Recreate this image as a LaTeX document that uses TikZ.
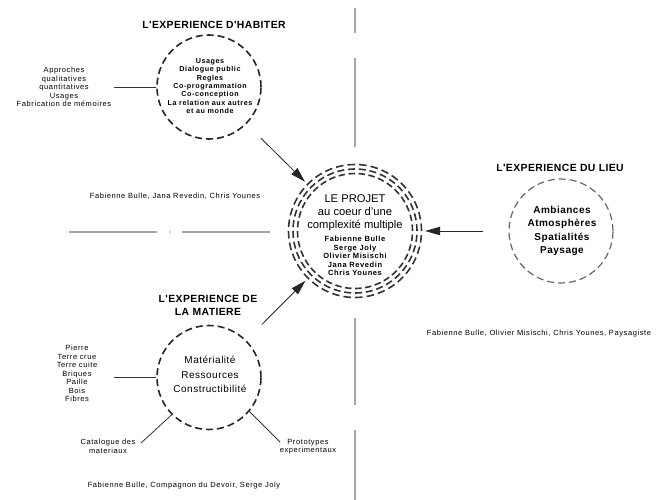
\documentclass[tikz,border=0pt]{standalone}
\usepackage{fontspec}
\setmainfont{Liberation Sans}
\newfontfamily\smfont[LetterSpace=8]{Liberation Sans}
\newfontfamily\ttlfont[LetterSpace=4]{Liberation Sans}
\newfontfamily\midfont[LetterSpace=5]{Liberation Sans}
\usetikzlibrary{arrows.meta}
\tikzset{
  sep/.style={draw=black!35, line width=1.6pt},
  ringc/.style={circle, draw=black!85, line width=1.6pt, dash pattern=on 7pt off 4pt, minimum size=104pt, inner sep=0pt},
  ringl/.style={ringc, draw=black!60, line width=1.2pt},
  small/.style={font=\smfont\fontsize{7.5}{8.5}\selectfont, align=center, inner sep=0pt},
  smallb/.style={font=\smfont\bfseries\fontsize{7.2}{8.4}\selectfont, align=center, inner sep=0pt},
  ttl/.style={font=\ttlfont\bfseries\fontsize{10.4}{13}\selectfont, align=center, inner sep=0pt},
  arr/.style={-{Triangle[length=15pt,width=8.5pt]}, line width=0.8pt, draw=black!85},
  link/.style={line width=0.8pt, draw=black!80},
  dashring/.style={line width=1.6pt, draw=black!80}
}
\begin{document}
\begin{tikzpicture}[x=1pt,y=-1pt]
\useasboundingbox[fill=white] (0,0) rectangle (664,500);

% grey separators
\draw[sep] (69,232) -- (157,232);
\fill[black!35] (170,232) circle (0.9pt);
\draw[sep] (182,232) -- (270,232);
\draw[sep] (355,8) -- (355,33);
\draw[sep] (355,58) -- (355,147);
\draw[sep] (355,318) -- (355,405);
\draw[sep] (355,430) -- (355,500);

% central project
\node[circle, minimum size=140pt, inner sep=0pt] (projet) at (355,231) {};
\foreach \r in {57.5,62,66.5}{
  \foreach \a in {0,10,...,350}{
    \draw[dashring] ([shift={(\a:\r pt)}]projet.center) arc[start angle=\a, end angle=\a+6.5, radius=\r pt];
  }
}
\node[font=\fontsize{11.2}{13}\selectfont, align=center, inner sep=0pt] (projtxt) at (355,213) {LE PROJET\\au coeur d'une\\complexité multiple};
\node[font=\smfont\bfseries\fontsize{7.5}{8.5}\selectfont, align=center, inner sep=0pt] (projnames) at (355,256) {Fabienne Bulle\\Serge Joly\\Olivier Misischi\\Jana Revedin\\Chris Younes};

% habiter
\node[ttl] (thab) at (214,25) {L'EXPERIENCE D'HABITER};
\node[ringc] (habiter) at (209,87) {};
\node[smallb] (habtxt) at (210,86) {Usages\\Dialogue public\\Regles\\Co-programmation\\Co-conception\\La relation aux autres\\et au monde};
\node[small] (appro) at (64,87) {Approches\\qualitatives\\quantitatives\\Usages\\Fabrication de mémoires};
\coordinate (approend) at (114,87);
\draw[link] (approend) -- (habiter.west);
\node[small] (auth1) at (175,196) {Fabienne Bulle, Jana Revedin, Chris Younes};
\draw[arr, shorten <=20pt] (habiter) -- (projet);

% lieu
\node[ttl] (tlieu) at (560,168) {L'EXPERIENCE DU LIEU};
\node[ringl] (lieu) at (561,231) {};
\node[font=\midfont\bfseries\fontsize{10}{13.5}\selectfont, align=center, inner sep=0pt] (lieutxt) at (562,231) {Ambiances\\Atmosphères\\Spatialités\\Paysage};
\node[small] (auth2) at (539,334) {Fabienne Bulle, Olivier Misischi, Chris Younes, Paysagiste};
\draw[arr, shorten <=25pt] (lieu) -- (projet);

% matiere
\node[ttl] (tmat) at (208,305.5) {L'EXPERIENCE DE\\LA MATIERE};
\node[ringc] (matiere) at (209,377.5) {};
\node[font=\midfont\fontsize{10}{14.5}\selectfont, align=center, inner sep=0pt] (mattxt) at (210,374.5) {Matérialité\\Ressources\\Constructibilité};
\node[small] (matlist) at (77,373.5) {Pierre\\Terre crue\\Terre cuite\\Briques\\Paille\\Bois\\Fibres};
\coordinate (matlistend) at (114,377.5);
\draw[link] (matlistend) -- (matiere.west);
\node[small] (catal) at (108,446.5) {Catalogue des\\materiaux};
\coordinate (catalend) at (141,443);
\draw[link] (catalend) -- (matiere.225);
\node[small] (proto) at (308,446.5) {Prototypes\\experimentaux};
\coordinate (protoend) at (280,442);
\draw[link] (matiere.-40) -- (protoend);
\node[small] (auth3) at (184,486) {Fabienne Bulle, Compagnon du Devoir, Serge Joly};
\draw[arr, shorten <=22pt] (matiere) -- (projet);
\end{tikzpicture}
\end{document}
